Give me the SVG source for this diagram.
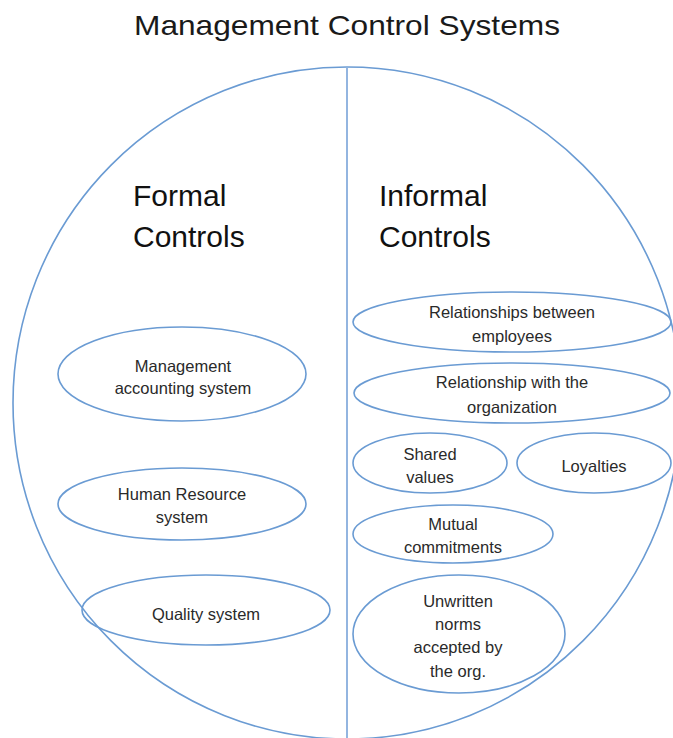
<svg xmlns="http://www.w3.org/2000/svg" width="673" height="738" viewBox="0 0 673 738">
<style>
.bg{fill:#ffffff}
.outer{fill:none;stroke:#6a9bd3;stroke-width:1.6}
.divider{stroke:#93b5e0;stroke-width:2}
.node ellipse{fill:#ffffff;fill-opacity:0;stroke:#6a9bd3;stroke-width:1.6}
text{font-family:"Liberation Sans","Open Sans",Arial,sans-serif;fill:#1a1a1a;text-anchor:middle}
.title{font-size:28px}
.head{font-size:30px;text-anchor:start;fill:#111}
.lbl{font-size:16.5px;fill:#2a2a2a}
</style>
<rect class="bg" x="0" y="0" width="673" height="738"/>
<text class="title" x="347" y="35" textLength="426" lengthAdjust="spacingAndGlyphs">Management Control Systems</text>
<g id="system-boundary">
<ellipse class="outer" cx="347" cy="403" rx="334" ry="336"/>
</g>
<g id="connectors">
<line class="divider" x1="347" y1="68" x2="347" y2="738"/>
</g>
<g id="formal-heading">
<text class="head" x="133" y="206">Formal</text>
<text class="head" x="133" y="247">Controls</text>
</g>
<g id="informal-heading">
<text class="head" x="379" y="206">Informal</text>
<text class="head" x="379" y="247">Controls</text>
</g>
<g id="mgmt-accounting" class="node">
<ellipse cx="182" cy="374" rx="124" ry="47"/>
<text class="lbl" x="183" y="372">Management</text>
<text class="lbl" x="183" y="394">accounting system</text>
</g>
<g id="human-resource" class="node">
<ellipse cx="182" cy="504" rx="124" ry="36"/>
<text class="lbl" x="182" y="500">Human Resource</text>
<text class="lbl" x="182" y="523">system</text>
</g>
<g id="quality" class="node">
<ellipse cx="206" cy="610" rx="124" ry="35"/>
<text class="lbl" x="206" y="620">Quality system</text>
</g>
<g id="rel-employees" class="node">
<ellipse cx="512" cy="322" rx="159" ry="30"/>
<text class="lbl" x="512" y="318">Relationships between</text>
<text class="lbl" x="512" y="342">employees</text>
</g>
<g id="rel-organization" class="node">
<ellipse cx="512" cy="393" rx="158" ry="30"/>
<text class="lbl" x="512" y="388">Relationship with the</text>
<text class="lbl" x="512" y="413">organization</text>
</g>
<g id="shared-values" class="node">
<ellipse cx="430" cy="463" rx="77" ry="30"/>
<text class="lbl" x="430" y="460">Shared</text>
<text class="lbl" x="430" y="483">values</text>
</g>
<g id="loyalties" class="node">
<ellipse cx="594" cy="463" rx="77" ry="30"/>
<text class="lbl" x="594" y="472">Loyalties</text>
</g>
<g id="mutual-commitments" class="node">
<ellipse cx="453" cy="534" rx="100" ry="29"/>
<text class="lbl" x="453" y="530">Mutual</text>
<text class="lbl" x="453" y="553">commitments</text>
</g>
<g id="unwritten-norms" class="node">
<ellipse cx="459" cy="634" rx="106" ry="59"/>
<text class="lbl" x="458" y="607">Unwritten</text>
<text class="lbl" x="458" y="630">norms</text>
<text class="lbl" x="458" y="653">accepted by</text>
<text class="lbl" x="458" y="677">the org.</text>
</g>
</svg>
